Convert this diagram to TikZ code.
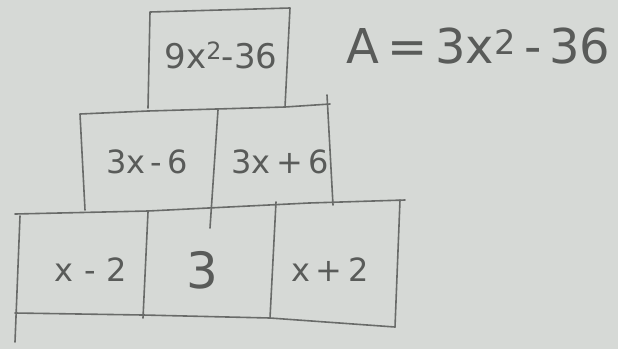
\documentclass[tikz,border=0pt]{standalone}
\usepackage{fontspec}
\setmainfont{DejaVu Sans}
\definecolor{paper}{HTML}{D6D9D6}
\definecolor{ink}{HTML}{696B69}
\definecolor{pen}{HTML}{595B59}
\begin{document}
\begin{tikzpicture}[x=1pt,y=-1pt,
  cell/.style={inner sep=0pt,text=pen,font=\fontsize{32}{34}\selectfont},
  stroke/.style={draw=ink,line width=1.6pt,line cap=round,line join=round}]
\fill[paper] (0,0) rectangle (618,349);
\useasboundingbox (0,0) rectangle (618,349);
% top box
\draw[stroke] (148,108) -- (150,12) -- (290,8) -- (285,107);
% middle row
\draw[stroke] (85,210) -- (80,114) -- (148,111) -- (285,107) -- (330,104);
\draw[stroke] (327,95) -- (333,205);
\draw[stroke] (218,110) -- (210,228);
% bottom row
\draw[stroke] (15,214) -- (148,211) -- (309,203) -- (405,200);
\draw[stroke] (20,216) -- (15,342);
\draw[stroke] (148,212) -- (143,318);
\draw[stroke] (276,202) -- (270,318);
\draw[stroke] (400,200) -- (395,327);
\draw[stroke] (15,313) -- (143,315) -- (270,318) -- (395,327);
% texts
\node[cell,font=\fontsize{34}{36}\selectfont] (top) at (221,55) {9x\textsuperscript{2}-36};
\node[cell] (ml) at (147,162) {3x\,-\,6};
\node[cell] (mr) at (280,162) {3x\,+\,6};
\node[cell] (bl) at (91,270) {x\,\,-\,\,2};
\node[cell,font=\fontsize{50}{52}\selectfont] (bm) at (202,270) {3};
\node[cell] (br) at (330,270) {x\,+\,2};
\node[text=pen,font=\fontsize{48}{50}\selectfont,anchor=west,inner sep=0pt] (area) at (346,46) {A\,=\,3x\textsuperscript{2}\,-\,36};
\end{tikzpicture}
\end{document}
